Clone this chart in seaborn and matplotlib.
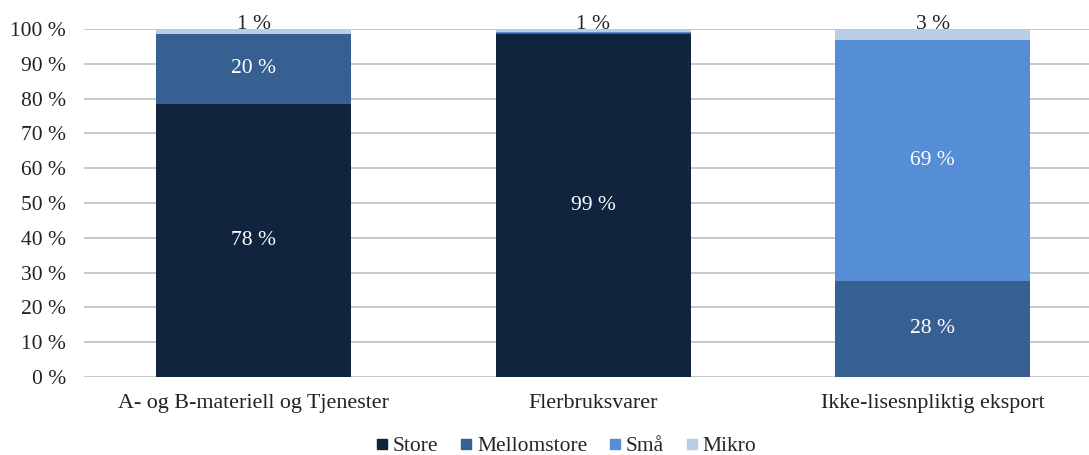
import numpy as np
import pandas as pd
import matplotlib
matplotlib.use("Agg")
import matplotlib.pyplot as plt
from matplotlib.lines import Line2D
from matplotlib.ticker import FuncFormatter
import seaborn as sns

# data (share in %)
categories = ["A- og B-materiell og Tjenester", "Flerbruksvarer", "Ikke-lisesnpliktig eksport"]
series = ["Store", "Mellomstore", "Små", "Mikro"]
store = [78.4, 98.7, 0.0]
mellomstore = [20.3, 0.2, 27.6]
smaa = [0.0, 0.2, 69.2]
mikro = [1.3, 0.9, 3.2]
colors = ["#10243E", "#376092", "#558ED5", "#B9CDE5"]

values = np.array([store, mellomstore, smaa, mikro])
cum = values.cumsum(axis=0)

sns.set_theme(style="white")
plt.rcParams["font.family"] = ["Liberation Serif", "DejaVu Serif"]

fig = plt.figure(figsize=(10.89, 4.55), dpi=100)
ax = fig.add_axes([84 / 1089, 78 / 455, 1 - 84 / 1089, 348 / 455])

# stacked bars: draw cumulative totals from the top segment down
for i in range(len(series) - 1, -1, -1):
    df = pd.DataFrame({"cat": categories, "val": cum[i]})
    sns.barplot(data=df, x="cat", y="val", color=colors[i], width=0.575,
                saturation=1, ax=ax, zorder=2, linewidth=0)

# labels
for j in range(len(categories)):
    for i in range(len(series)):
        v = values[i, j]
        if i == len(series) - 1:
            ax.text(j, cum[i, j], f"{v:.0f} %", ha="center", va="baseline",
                    fontsize=15.5, color="#222222", zorder=5)
        elif v >= 5:
            ax.text(j, cum[i, j] - v / 2, f"{v:.0f} %", ha="center", va="center",
                    fontsize=15.5, color="white", zorder=5)

ax.set_ylim(0, 100)
ax.set_xlim(-0.5, 2.46)
ax.set_yticks(range(0, 101, 10))
ax.yaxis.set_major_formatter(FuncFormatter(lambda v, p: f"{int(v)} %"))
ax.yaxis.grid(True, color="#BFBFBF", linewidth=1.2, zorder=0)
ax.set_axisbelow(True)
for s in ax.spines.values():
    s.set_visible(False)
ax.tick_params(axis="both", length=0, colors="#222222")
ax.tick_params(axis="y", pad=13, labelsize=15.5)
ax.tick_params(axis="x", pad=12, labelsize=15.8)
ax.set_xlabel("")
ax.set_ylabel("")

handles = [Line2D([], [], marker="s", linestyle="", markersize=7, color=c) for c in colors]
fig.legend(handles, series, loc="center", bbox_to_anchor=(565 / 1089, 9 / 455),
           ncol=4, frameon=False, fontsize=15.5, handletextpad=0.1,
           columnspacing=0.9, handlelength=0.8, borderpad=0)

fig.savefig("out.png", dpi=100)
